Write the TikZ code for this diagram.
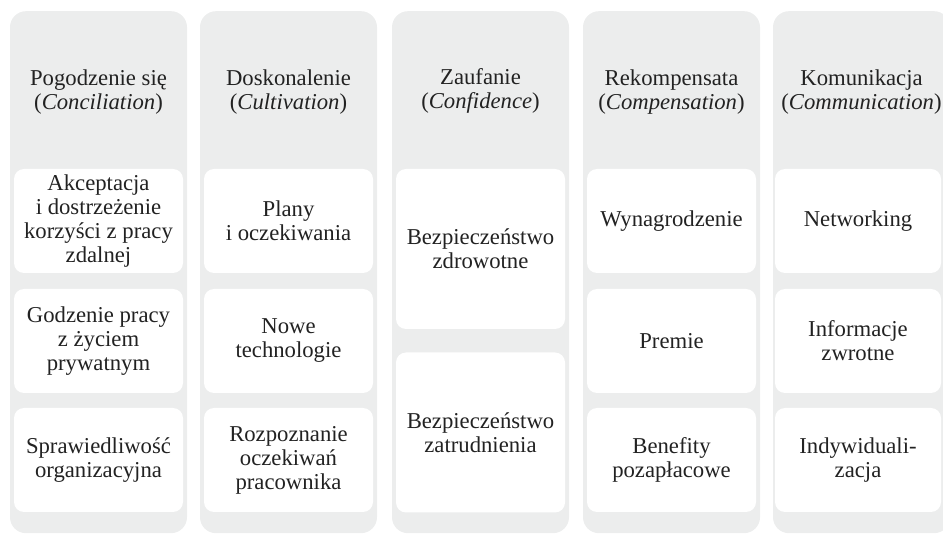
\documentclass[tikz,border=0pt]{standalone}
\usepackage{fontspec}
\setmainfont{Liberation Serif}
\definecolor{colbg}{HTML}{ECEDED}
\definecolor{txt}{HTML}{222222}
\begin{document}
\begin{tikzpicture}[x=1pt,y=-1pt,
  colbox/.style={fill=colbg, draw=none, rounded corners=16pt, minimum width=177pt,
    minimum height=522pt, inner sep=0pt, anchor=north},
  cell/.style={fill=white, draw=none, rounded corners=10pt, minimum width=169pt,
    inner sep=0pt, align=center, text=txt, font=\fontsize{22.7}{24}\selectfont},
  rowbox/.style={cell, minimum height=104pt},
  tallbox/.style={cell, minimum height=160pt},
  head/.style={align=center, text=txt, inner sep=0pt, font=\fontsize{22.7}{24}\selectfont}]
\useasboundingbox (0,0) rectangle (943,534);
\clip (0,0) rectangle (943,534);
% columns
\node[colbox] (k1) at (98.5,11) {};
\node[colbox] (k2) at (288.5,11) {};
\node[colbox] (k3) at (480.5,11) {};
\node[colbox] (k4) at (671.5,11) {};
\node[colbox] (k5) at (861.5,11) {};
% headers
\node[head] (h1) at (98.5,92.5) {Pogodzenie się\\(\textit{Conciliation})};
\node[head] (h2) at (288.5,92.5) {Doskonalenie\\(\textit{Cultivation})};
\node[head] (h3) at (480.5,90.5) {Zaufanie\\(\textit{Confidence})};
\node[head] (h4) at (671.5,92.5) {Rekompensata\\(\textit{Compensation})};
\node[head] (h5) at (861.5,92.5) {Komunikacja\\(\textit{Communication})};
% column 1
\node[rowbox] (a1) at (98.5,221) {Akceptacja\\i dostrzeżenie\\korzyści z pracy\\zdalnej};
\node[rowbox] (a2) at (98.5,341) {Godzenie pracy\\z życiem\\prywatnym};
\node[rowbox] (a3) at (98.5,460) {Sprawiedliwość\\organizacyjna};
% column 2
\node[rowbox] (b1) at (288.5,221) {Plany\\i oczekiwania};
\node[rowbox] (b2) at (288.5,341) {Nowe\\technologie};
\node[rowbox] (b3) at (288.5,460) {Rozpoznanie\\oczekiwań\\pracownika};
% column 3
\node[tallbox] (c1) at (480.5,249) {Bezpieczeństwo\\zdrowotne};
\node[tallbox] (c2) at (480.5,432.5) {Bezpieczeństwo\\zatrudnienia};
% column 4
\node[rowbox] (d1) at (671.5,221) {Wynagrodzenie};
\node[rowbox] (d2) at (671.5,341) {Premie};
\node[rowbox] (d3) at (671.5,460) {Benefity\\pozapłacowe};
% column 5
\node[rowbox, minimum width=166pt] (e1) at (858,221) {Networking};
\node[rowbox, minimum width=166pt] (e2) at (858,341) {Informacje\\zwrotne};
\node[rowbox, minimum width=166pt] (e3) at (858,460) {Indywiduali-\\zacja};
\end{tikzpicture}
\end{document}
